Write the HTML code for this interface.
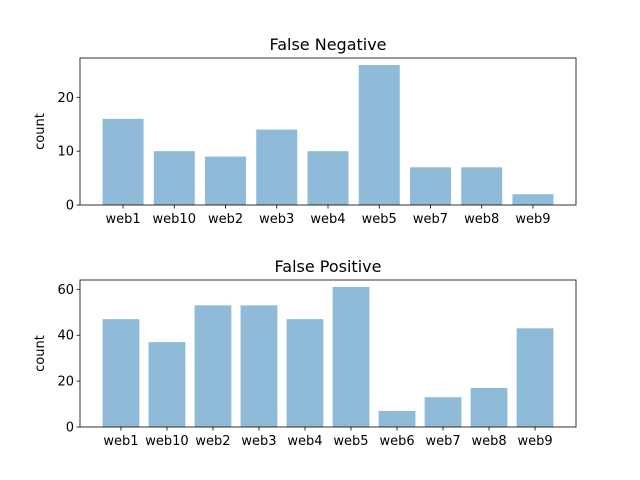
<!DOCTYPE html>
<html><head><meta charset="utf-8"><style>
body{margin:0;background:#fff;}
svg{display:block;font-family:"DejaVu Sans","Liberation Sans",sans-serif;}
</style></head><body>
<svg id="chart" width="640" height="480"></svg>
<script>
const fnCats=["web1","web10","web2","web3","web4","web5","web7","web8","web9"];
const fnVals=[16,10,9,14,10,26,7,7,2];
const fnTicks=[0,10,20];
const fpCats=["web1","web10","web2","web3","web4","web5","web6","web7","web8","web9"];
const fpVals=[47,37,53,53,47,61,7,13,17,43];
const fpTicks=[0,20,40,60];
const NS="http://www.w3.org/2000/svg";
const svg=document.getElementById('chart');
function mk(t,a,p){const e=document.createElementNS(NS,t);for(const k in a)e.setAttribute(k,a[k]);(p||svg).appendChild(e);return e;}
function panel(name,title,cats,vals,ticks,top,bottom){
  const L=80,R=576;
  const g=mk('g',{});
  
  
  const n=cats.length;
  const xmin=-0.4-0.05*(n-0.2), xmax=n-1+0.4+0.05*(n-0.2);
  const ymax=Math.max(...vals)*1.05;
  const x=v=>L+(v-xmin)/(xmax-xmin)*(R-L);
  const y=v=>bottom-v/ymax*(bottom-top);
  cats.forEach((c,i)=>{
    const b=mk('rect',{x:x(i-0.4),y:y(vals[i]),width:x(i+0.4)-x(i-0.4),height:bottom-y(vals[i]),fill:'#8fbbd9'},g);
    
    
    mk('line',{x1:x(i),x2:x(i),y1:bottom,y2:bottom+3.5,stroke:'#000','stroke-width':0.8},g);
    const t=mk('text',{x:x(i),y:bottom+18,'text-anchor':'middle','font-size':13},g);t.textContent=c;
    
    
  });
  ticks.forEach(v=>{
    mk('line',{x1:L-3.5,x2:L,y1:y(v),y2:y(v),stroke:'#000','stroke-width':0.8},g);
    const t=mk('text',{x:L-6,y:y(v)+4.5,'text-anchor':'end','font-size':13},g);t.textContent=v;
    
    
  });
  mk('rect',{x:L,y:top,width:R-L,height:bottom-top,fill:'none',stroke:'#000','stroke-width':0.8},g);
  const tt=mk('text',{x:(L+R)/2,y:top-8,'text-anchor':'middle','font-size':16},g);tt.textContent=title;
  
  
  const yl=mk('text',{x:44,y:(top+bottom)/2,'text-anchor':'middle','font-size':13,transform:`rotate(-90 44 ${(top+bottom)/2})`},g);yl.textContent='count';
  
  
}
panel('false-negative-panel','False Negative',fnCats,fnVals,fnTicks,58,205);
panel('false-positive-panel','False Positive',fpCats,fpVals,fpTicks,280,427);
</script>
</body></html>
